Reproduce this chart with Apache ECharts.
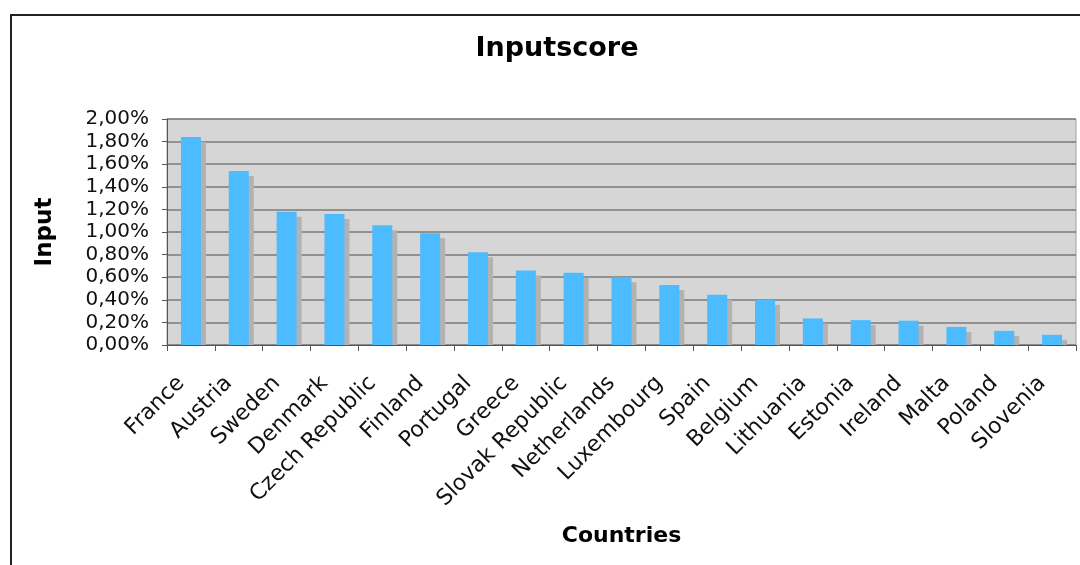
<!DOCTYPE html>
<html>
<head>
<meta charset="utf-8">
<script src="https://cdn.jsdelivr.net/npm/echarts@6/dist/echarts.min.js"></script>
<style>
html,body{margin:0;padding:0;background:#fff;}
#c{width:1080px;height:565px;}
</style>
</head>
<body>
<div id="c"></div>
<script>
const countries = ["France","Austria","Sweden","Denmark","Czech Republic","Finland","Portugal","Greece","Slovak Republic","Netherlands","Luxembourg","Spain","Belgium","Lithuania","Estonia","Ireland","Malta","Poland","Slovenia"];
const inputScore = [1.84,1.54,1.18,1.16,1.06,0.99,0.82,0.66,0.64,0.60,0.53,0.445,0.40,0.235,0.22,0.215,0.16,0.125,0.09];
const yTicks = { min: 0, max: 2, interval: 0.2 };

const BAR_W = 20, SH = 5;
const chart = echarts.init(document.getElementById('c'), null, {renderer:'canvas'});
const font = 'DejaVu Sans';
chart.setOption({
  animation:false,
  backgroundColor:'#ffffff',
  graphic:[{
    type:'rect', left:10, top:14, z:-10, silent:true,
    shape:{x:0,y:0,width:1200,height:700},
    style:{fill:'#ffffff',stroke:'#222',lineWidth:2}
  }],
  title:{
    text:'Inputscore', left:552, top:30, textAlign:'center',
    textStyle:{fontFamily:font,fontWeight:'bold',fontSize:27,color:'#000'}
  },
  grid:{left:167,right:4,top:119,bottom:220,show:true,backgroundColor:'#d6d6d6',borderColor:'#a0a0a0',borderWidth:1},
  xAxis:{
    type:'category', data:countries,
    name:'Countries', nameLocation:'middle', nameGap:180,
    nameTextStyle:{fontFamily:font,fontWeight:'bold',fontSize:22,color:'#000'},
    axisLine:{lineStyle:{color:'#555',width:1}},
    axisTick:{show:true,length:6,lineStyle:{color:'#555'}},
    axisLabel:{rotate:45,interval:0,margin:25,padding:[0,14,0,0],fontFamily:font,fontSize:22,color:'#111'}
  },
  yAxis:{
    type:'value', min:yTicks.min, max:yTicks.max, interval:yTicks.interval,
    name:'Input', nameLocation:'middle', nameGap:110, nameRotate:90,
    nameTextStyle:{fontFamily:font,fontWeight:'bold',fontSize:23,color:'#000'},
    axisLine:{show:true,lineStyle:{color:'#555'}},
    axisTick:{show:true,length:5,lineStyle:{color:'#555'}},
    splitLine:{show:true,lineStyle:{color:'#7a7a7a',width:1.5}},
    axisLabel:{margin:18,fontFamily:font,fontSize:20,color:'#111',
      formatter:v=>v.toFixed(2).replace('.',',')+'%'}
  },
  series:[{
    type:'custom', data:inputScore, z:2, silent:true,
    renderItem:(params, api)=>{
      const top = api.coord([api.value(0), api.value(1)]);
      const base = api.coord([api.value(0), 0]);
      const h = Math.max(0, base[1] - top[1] - SH);
      return {type:'rect', shape:{x:top[0]-BAR_W/2+SH, y:top[1]+SH, width:BAR_W, height:h}, style:{fill:'#b2b2b2'}};
    },
    encode:{x:0,y:1}
  },{
    type:'bar', data:inputScore, barWidth:BAR_W, z:3,
    itemStyle:{color:'#4dbbff'}
  }]
});
</script>
</body>
</html>
